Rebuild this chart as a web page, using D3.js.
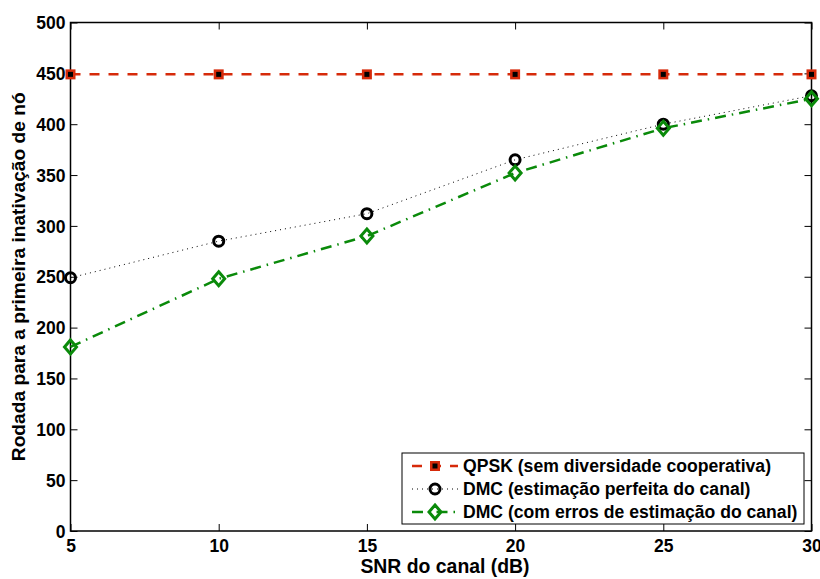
<!DOCTYPE html>
<html><head><meta charset="utf-8">
<script src="https://cdn.jsdelivr.net/npm/d3@7"></script>
<style>body{margin:0;background:#fff}text{font-family:"Liberation Sans",Arial,sans-serif;font-weight:bold}</style>
</head><body><svg id="c" width="820" height="579"></svg>
<script>
const snr = [5, 10, 15, 20, 25, 30];
const qpsk = [449, 449, 449, 449, 449, 449];
const dmcPerfect = [249, 285, 312, 365, 400, 428];
const dmcErrors = [181, 248, 290, 352, 396, 425];
const xTicks = [5, 10, 15, 20, 25, 30];
const yTicks = [0, 50, 100, 150, 200, 250, 300, 350, 400, 450, 500];
const seriesNames = ["QPSK (sem diversidade cooperativa)", "DMC (estimação perfeita do canal)", "DMC (com erros de estimação do canal)"];

const svg = d3.select("#c");
const L = 70.5, R = 811.5, T = 22.5, B = 531;
const x = d3.scaleLinear().domain([5, 30]).range([L, R]);
const y = d3.scaleLinear().domain([0, 500]).range([B, T]);

const g = svg.append("g");
const tl = 7;
const xa = d3.axisBottom(x).tickValues(xTicks).tickSize(-tl).tickPadding(9).tickFormat(d3.format("d"));
const ya = d3.axisLeft(y).tickValues(yTicks).tickSize(-tl).tickPadding(5).tickFormat(d3.format("d"));
const xg = g.append("g").attr("transform", `translate(0,${B})`).call(xa);
const yg = g.append("g").attr("transform", `translate(${L},0)`).call(ya);
g.append("g").attr("transform", `translate(0,${T})`).call(d3.axisTop(x).tickValues(xTicks).tickSize(-tl).tickFormat(""));
g.append("g").attr("transform", `translate(${R},0)`).call(d3.axisRight(y).tickValues(yTicks).tickSize(-tl).tickFormat(""));
g.selectAll(".domain").remove();
g.selectAll(".tick line").attr("stroke", "#000").attr("stroke-width", 1);
xg.selectAll("text").attr("font-size", 17.5).attr("fill", "#000");
yg.selectAll("text").attr("font-size", 17.5).attr("fill", "#000").attr("dy", "0.35em");
g.append("rect").attr("x", L).attr("y", T).attr("width", R - L).attr("height", B - T)
  .attr("fill", "none").attr("stroke", "#000").attr("stroke-width", 1.5);

svg.append("text").attr("x", 445).attr("y", 572.5).attr("text-anchor", "middle").attr("font-size", 19.4).text("SNR do canal (dB)");
svg.append("text").attr("transform", `translate(25,${(T + B) / 2}) rotate(-90)`).attr("text-anchor", "middle").attr("font-size", 19.2).text("Rodada para a primeira inativação de nó");

const line = d3.line().x((d, i) => x(snr[i])).y(d => y(d));
const red = "#d62a0a", green = "#0a8a0a";
const styles = [
  {data: qpsk, color: red, width: 2.5, dash: "10,9", marker: "square"},
  {data: dmcPerfect, color: "#000", width: 1, dash: "1,4", marker: "circle"},
  {data: dmcErrors, color: green, width: 2.5, dash: "11,6,1.5,6", marker: "diamond"}
];
function drawMarker(sel, s, cx, cy) {
  if (s.marker === "square") {
    sel.append("rect").attr("x", cx - 5).attr("y", cy - 5).attr("width", 10).attr("height", 10).attr("fill", s.color);
    sel.append("rect").attr("x", cx - 2.5).attr("y", cy - 2.5).attr("width", 5).attr("height", 5).attr("fill", "#000");
  } else if (s.marker === "circle") {
    sel.append("circle").attr("cx", cx).attr("cy", cy).attr("r", 5).attr("fill", "none").attr("stroke", "#000").attr("stroke-width", 3);
  } else {
    sel.append("path").attr("d", `M${cx},${cy - 7}L${cx + 6},${cy}L${cx},${cy + 7}L${cx - 6},${cy}Z`)
      .attr("fill", "none").attr("stroke", s.color).attr("stroke-width", 3);
  }
}
const plot = svg.append("g");
styles.forEach(s => {
  plot.append("path").datum(s.data).attr("d", line).attr("fill", "none").attr("stroke", s.color)
    .attr("stroke-width", s.width).attr("stroke-dasharray", s.dash);
});
styles.forEach(s => {
  s.data.forEach((d, i) => drawMarker(plot, s, x(snr[i]), y(d)));
});

const lx = 402, ly = 453, lw = 402, lh = 71;
const lg = svg.append("g");
lg.append("rect").attr("x", lx).attr("y", ly).attr("width", lw).attr("height", lh).attr("fill", "#fff").attr("stroke", "#000").attr("stroke-width", 1);
styles.forEach((s, i) => {
  const yy = ly + 13 + i * 23;
  lg.append("line").attr("x1", lx + 10).attr("x2", lx + 56).attr("y1", yy).attr("y2", yy)
    .attr("stroke", s.color).attr("stroke-width", s.width).attr("stroke-dasharray", s.dash);
  drawMarker(lg, s, lx + 33, yy);
  lg.append("text").attr("x", lx + 61).attr("y", yy).attr("dy", "0.35em").attr("font-size", 17.6).text(seriesNames[i]);
});
</script></body></html>
